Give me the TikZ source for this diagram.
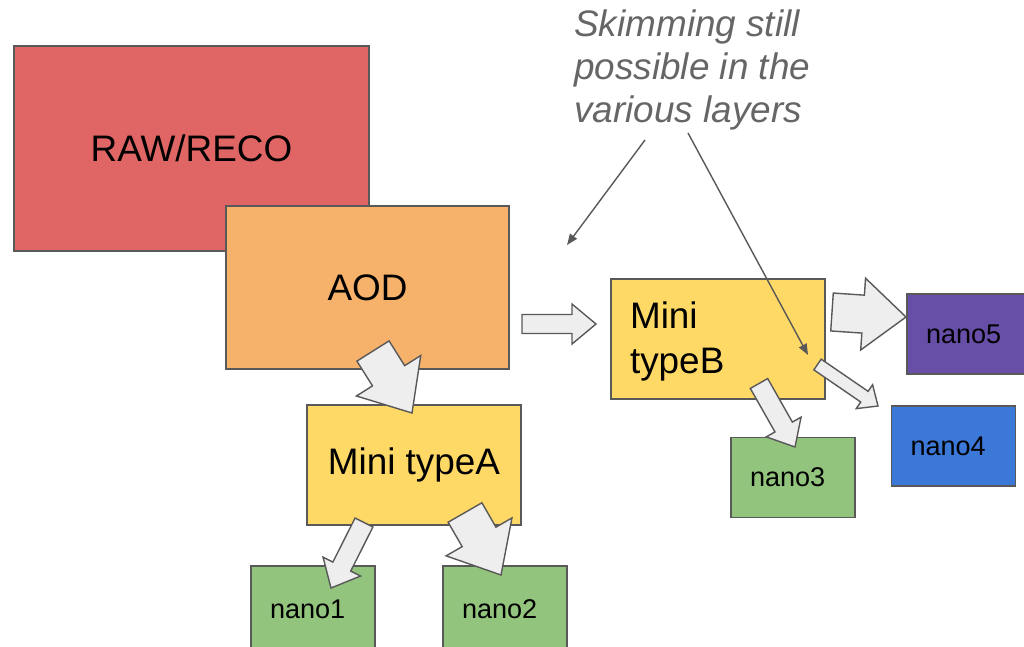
\documentclass[tikz,border=0pt]{standalone}
\usepackage{fontspec}
\setmainfont{Liberation Sans}
\usetikzlibrary{calc,arrows.meta}

\definecolor{rawred}{HTML}{E06666}
\definecolor{aodorange}{HTML}{F6B26B}
\definecolor{miniyellow}{HTML}{FFD966}
\definecolor{nanogreen}{HTML}{93C47D}
\definecolor{nanoblue}{HTML}{3C78D8}
\definecolor{nanopurple}{HTML}{674EA7}
\definecolor{edgegray}{HTML}{595959}
\definecolor{arrowfill}{HTML}{EEEEEE}
\definecolor{notegray}{HTML}{666666}

\newcommand{\fatarrow}[5]{%
	\filldraw[fatarrow] ($(#1)!#3!90:(#2)$) -- ($(#2)!#4!(#1)!#3!90:(#2)$) -- ($(#2)!#4!(#1)!#5!90:(#2)$) -- (#2) -- ($(#2)!#4!(#1)!#5!-90:(#2)$) -- ($(#2)!#4!(#1)!#3!-90:(#2)$) -- ($(#1)!#3!-90:(#2)$) -- cycle;}

\begin{document}
\begin{tikzpicture}[x=0.02cm,y=-0.02cm,
	box/.style={draw=edgegray,line width=1pt,rectangle,inner sep=0,font=\fontsize{21}{25}\selectfont},
	nanobox/.style={box,minimum width=2.48cm,minimum height=1.6cm,inner xsep=0.38cm,text width=1.72cm,align=left,font=\fontsize{15.4}{18}\selectfont},
	fatarrow/.style={draw=edgegray,fill=arrowfill,line width=0.8pt,line join=miter},
	note/.style={inner sep=0,align=left,text=notegray,font=\fontsize{21}{24.7}\selectfont\itshape},
	pointer/.style={draw=edgegray,line width=0.8pt,-{Triangle[length=0.22cm,width=0.17cm]}}]
	\useasboundingbox (0,0) rectangle (1024,646);
	\clip (0,0) rectangle (1024,646);
	\node[box,fill=rawred,minimum width=7.1cm,minimum height=4.1cm] (raw) at (191.5,148.5) {RAW/RECO};
	\node[box,fill=aodorange,minimum width=5.66cm,minimum height=3.26cm] (aod) at (367.5,287.5) {AOD};
	\node[box,fill=miniyellow,minimum width=4.28cm,minimum height=2.4cm] (minia) at (414,465) {Mini typeA};
	\node[box,fill=miniyellow,minimum width=4.28cm,minimum height=2.4cm,inner xsep=0.38cm,text width=3.52cm,align=left,font=\fontsize{21}{25.5}\selectfont] (minib) at (718,339) {\strut Mini\\typeB};
	\node[nanobox,fill=nanogreen,minimum height=1.72cm] (nano1) at (313,609) {nano1};
	\node[nanobox,fill=nanogreen,minimum height=1.72cm] (nano2) at (505,609) {nano2};
	\node[nanobox,fill=nanogreen] (nano3) at (793,477.5) {nano3};
	\node[nanobox,fill=nanoblue] (nano4) at (953.5,446) {nano4};
	\node[nanobox,fill=nanopurple] (nano5) at (969,334) {nano5};
	\coordinate (aod-a) at (373,351);
	\coordinate (minia-in) at (412,413);
	\coordinate (aod-b) at (522,324);
	\coordinate (minib-in) at (596,324);
	\coordinate (minib-5) at (832,312);
	\coordinate (nano5-in) at (906,317);
	\coordinate (minib-4) at (817.5,364.5);
	\coordinate (nano4-in) at (878,406);
	\coordinate (minib-3) at (759,383.5);
	\coordinate (nano3-in) at (795,447);
	\coordinate (minia-1) at (364,522.5);
	\coordinate (nano1-in) at (331,588);
	\coordinate (minia-2) at (465,512.5);
	\coordinate (nano2-in) at (501,575);
	\fatarrow{aod-a}{minia-in}{0.38cm}{0.88cm}{0.76cm}
	\fatarrow{aod-b}{minib-in}{0.19cm}{0.48cm}{0.4cm}
	\fatarrow{minib-5}{nano5-in}{0.38cm}{0.86cm}{0.72cm}
	\fatarrow{minib-4}{nano4-in}{0.13cm}{0.33cm}{0.29cm}
	\fatarrow{minib-3}{nano3-in}{0.2cm}{0.46cm}{0.4cm}
	\fatarrow{minia-1}{nano1-in}{0.2cm}{0.48cm}{0.42cm}
	\fatarrow{minia-2}{nano2-in}{0.39cm}{0.88cm}{0.76cm}
	\node[note,anchor=north west] (note) at (574,9) {Skimming still\\possible in the\\various layers};
	\coordinate (note-l) at (645,140);
	\coordinate (note-r) at (688,133);
	\coordinate (skim-aod) at (567,245);
	\coordinate (skim-minib) at (808,355);
	\draw[pointer] (note-l) -- (skim-aod);
	\draw[pointer] (note-r) -- (skim-minib);
\end{tikzpicture}
\end{document}
